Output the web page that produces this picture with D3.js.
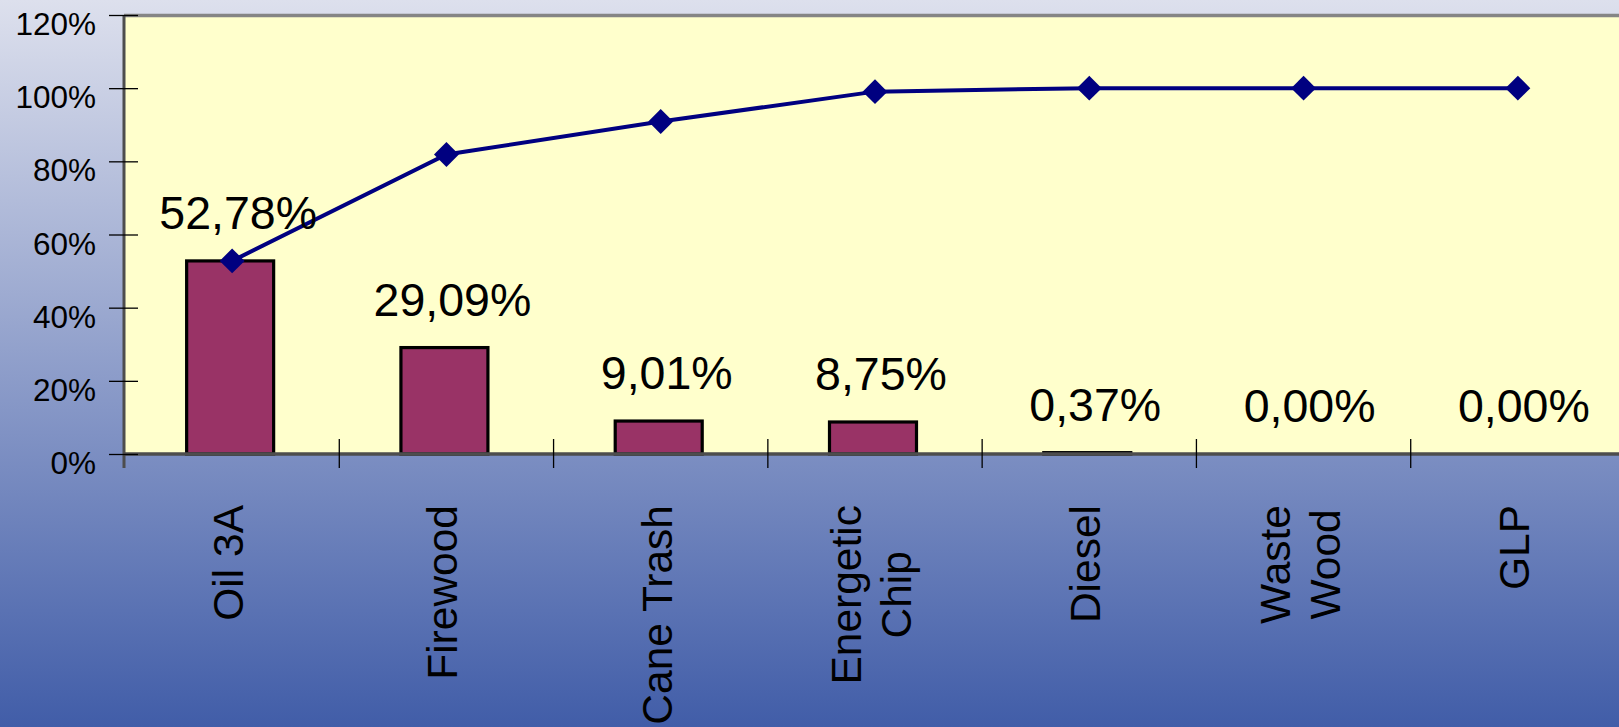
<!DOCTYPE html>
<html>
<head>
<meta charset="utf-8">
<script src="https://cdn.jsdelivr.net/npm/d3@7"></script>
<style>
  html, body { margin: 0; padding: 0; overflow: hidden; }
  svg { display: block; font-family: "Liberation Sans", Arial, sans-serif; }
</style>
</head>
<body>
<svg id="chart" width="1619" height="727"></svg>
<script>
// Fuel share of total energy consumption (Pareto)
const categories = ["Oil 3A", "Firewood", "Cane Trash", "Energetic\nChip", "Diesel", "Waste\nWood", "GLP"];
const shares = [52.78, 29.09, 9.01, 8.75, 0.37, 0.00, 0.00];          // % per fuel
const cumulative = [52.78, 81.87, 90.88, 99.05, 100.00, 100.00, 100.00]; // running %
const yTicks = [0, 20, 40, 60, 80, 100, 120];

const W = 1619, H = 727;
const plot = { left: 124, top: 15, right: 1625, bottom: 454 };

const svg = d3.select("#chart");

// page background gradient
const defs = svg.append("defs");
const grad = defs.append("linearGradient")
  .attr("id", "bg").attr("x1", 0).attr("y1", 0).attr("x2", 0).attr("y2", 1);
grad.append("stop").attr("offset", "0%").attr("stop-color", "#dde0ed");
grad.append("stop").attr("offset", "100%").attr("stop-color", "#415da8");
svg.append("rect").attr("width", W).attr("height", H).attr("fill", "url(#bg)");

const x = d3.scaleBand().domain(categories).range([plot.left + 1, plot.right]).padding(0);
const y = d3.scaleLinear().domain([0, 120]).range([plot.bottom, plot.top]);
const cx = d => x(d) + x.bandwidth() / 2;

// plot area
svg.append("rect")
  .attr("x", plot.left).attr("y", plot.top)
  .attr("width", plot.right - plot.left).attr("height", plot.bottom - plot.top)
  .attr("fill", "#ffffcc");
svg.append("line")
  .attr("x1", plot.left).attr("x2", plot.right)
  .attr("y1", plot.top + 0.5).attr("y2", plot.top + 0.5)
  .attr("stroke", "#858585").attr("stroke-width", 3.5);

// bars
const barW = 87;
svg.append("g").selectAll("rect")
  .data(categories.map((c, i) => ({ c, v: shares[i] })).filter(d => d.v > 0))
  .join("rect")
  .attr("x", d => cx(d.c) - 2 - barW / 2)
  .attr("y", d => y(d.v))
  .attr("width", barW)
  .attr("height", d => y(0) - y(d.v))
  .attr("fill", "#993366")
  .attr("stroke", "#000")
  .attr("stroke-width", 3.2);

// axes lines
svg.append("line")
  .attr("x1", plot.left).attr("x2", plot.right)
  .attr("y1", plot.bottom).attr("y2", plot.bottom)
  .attr("stroke", "#4d4d4d").attr("stroke-width", 3.5);
svg.append("line")
  .attr("x1", plot.left).attr("x2", plot.left)
  .attr("y1", plot.top).attr("y2", plot.bottom + 14)
  .attr("stroke", "#4d4d4d").attr("stroke-width", 3);

// y axis: ticks crossing the axis line
const yAxisOut = d3.axisLeft(y).tickValues(yTicks).tickSize(15).tickPadding(13)
  .tickFormat(d => d + "%");
const gy = svg.append("g").attr("transform", `translate(${plot.left},0)`).call(yAxisOut);
gy.select(".domain").remove();
gy.selectAll(".tick line").attr("stroke", "#000").attr("stroke-width", 1.3);
gy.selectAll(".tick text")
  .attr("font-family", "Liberation Sans, Arial, sans-serif")
  .attr("font-size", 31.5).attr("fill", "#000").attr("dy", "0.62em");
const gyIn = svg.append("g").attr("transform", `translate(${plot.left},0)`)
  .call(d3.axisRight(y).tickValues(yTicks).tickSize(14).tickFormat(""));
gyIn.select(".domain").remove();
gyIn.selectAll(".tick line").attr("stroke", "#000").attr("stroke-width", 1.3);

// x axis: ticks at category boundaries
svg.append("g").selectAll("line")
  .data(categories.slice(1))
  .join("line")
  .attr("x1", d => x(d)).attr("x2", d => x(d))
  .attr("y1", plot.bottom - 15).attr("y2", plot.bottom + 14)
  .attr("stroke", "#000").attr("stroke-width", 1.3);

// category labels, rotated
const labelEnd = 505;
const catG = svg.append("g").attr("font-size", 42.5).attr("fill", "#000");
categories.forEach(c => {
  const lines = c.split("\n");
  const g = catG.append("g")
    .attr("transform", `translate(${cx(c) - 4},0) rotate(-90)`);
  const lineGap = 50;
  const texts = lines.map((t, i) => g.append("text")
    .attr("y", 15 + (i - (lines.length - 1) / 2) * lineGap)
    .text(t));
  const L = d3.max(texts, t => t.node().getComputedTextLength());
  texts.forEach(t => t.attr("text-anchor", "middle").attr("x", -(labelEnd + L / 2)));
});

// cumulative line with diamond markers
svg.append("path")
  .datum(categories.map((c, i) => [cx(c), y(cumulative[i])]))
  .attr("d", d3.line())
  .attr("fill", "none")
  .attr("stroke", "#000080")
  .attr("stroke-width", 4);
const diamond = d3.symbol().type(d3.symbolSquare).size(310);
svg.append("g").selectAll("path")
  .data(categories.map((c, i) => ({ c, v: cumulative[i] })))
  .join("path")
  .attr("d", diamond)
  .attr("transform", d => `translate(${cx(d.c)},${y(d.v)}) rotate(45)`)
  .attr("fill", "#000080");

// value labels above bars
const fmt = v => v.toFixed(2).replace(".", ",") + "%";
svg.append("g").selectAll("text")
  .data(categories.map((c, i) => ({ c, v: shares[i] })))
  .join("text")
  .attr("x", d => cx(d.c) + 6)
  .attr("y", d => y(d.v) - 32)
  .attr("text-anchor", "middle")
  .attr("font-size", 46.5)
  .attr("fill", "#000")
  .text(d => fmt(d.v));
</script>
</body>
</html>
